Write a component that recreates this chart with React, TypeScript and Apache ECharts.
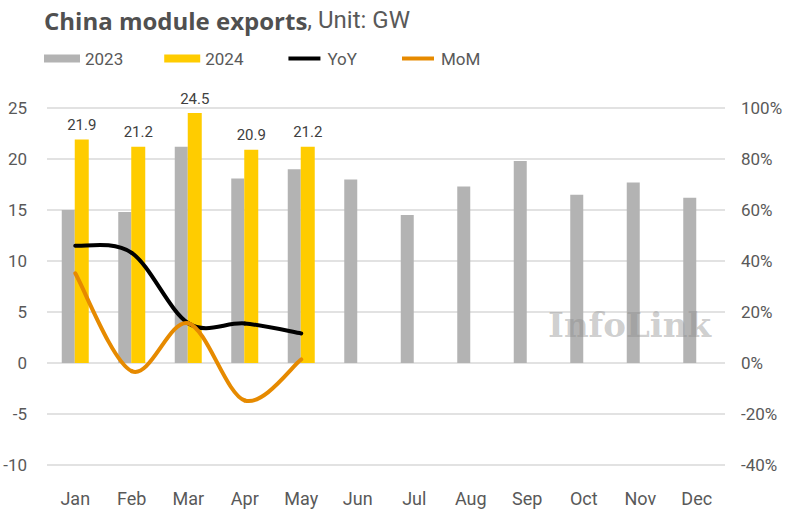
import React, { useEffect, useRef } from "react";
import * as echarts from "echarts";

const months = ["Jan", "Feb", "Mar", "Apr", "May", "Jun", "Jul", "Aug", "Sep", "Oct", "Nov", "Dec"];
const exports2023 = [15.0, 14.8, 21.2, 18.1, 19.0, 18.0, 14.5, 17.3, 19.8, 16.5, 17.7, 16.2];
const exports2024 = [21.9, 21.2, 24.5, 20.9, 21.2];
const yoy = [46.0, 43.2, 15.6, 15.5, 11.6];
const mom = [35.2, -3.2, 15.6, -14.7, 1.4];

const FONT = "Roboto";
const TXT = "#595959";

// Smooth curve (Catmull-Rom -> cubic Bezier) through points given by the axes
function smoothRender(values: number[], color: string) {
  return (params: any, api: any) => {
    if (params.dataIndex !== 0) return { type: "group", children: [] };
    const pts = values.map((v, i) => api.coord([i, v]));
    const children: any[] = [];
    for (let i = 0; i < pts.length - 1; i++) {
      const p0 = pts[Math.max(0, i - 1)];
      const p1 = pts[i];
      const p2 = pts[i + 1];
      const p3 = pts[Math.min(pts.length - 1, i + 2)];
      children.push({
        type: "bezierCurve",
        shape: {
          x1: p1[0],
          y1: p1[1],
          x2: p2[0],
          y2: p2[1],
          cpx1: p1[0] + (p2[0] - p0[0]) / 6,
          cpy1: p1[1] + (p2[1] - p0[1]) / 6,
          cpx2: p2[0] - (p3[0] - p1[0]) / 6,
          cpy2: p2[1] - (p3[1] - p1[1]) / 6,
        },
        style: { stroke: color, lineWidth: 4, fill: null, lineCap: "round" },
      });
    }
    return { type: "group", children };
  };
}

export default function App() {
  const ref = useRef<HTMLDivElement>(null);
  useEffect(() => {
    document.body.style.margin = "0";
    const chart = echarts.init(ref.current!, null, { renderer: "svg" });
    chart.setOption({
      animation: false,
      backgroundColor: "#ffffff",
      textStyle: { fontFamily: FONT },
      title: {
        text: "{b|China module exports}{r|, Unit: GW}",
        left: 39,
        top: 3,
        textStyle: {
          rich: {
            b: { fontFamily: "Open Sans", fontSize: 24, fontWeight: "bold", color: "#505050" },
            r: { fontFamily: FONT, fontSize: 24, fontWeight: "normal", color: "#595959" },
          },
        },
      },
      legend: {
        left: 39,
        top: 45,
        itemWidth: 36,
        itemHeight: 8,
        itemGap: 41,
        textStyle: { fontFamily: FONT, fontSize: 17, color: TXT },
        data: [
          { name: "2023", icon: "rect" },
          { name: "2024", icon: "rect" },
          { name: "YoY", icon: "roundRect", itemStyle: { borderColor: "#ffffff", borderWidth: 4 } },
          { name: "MoM", icon: "roundRect", itemStyle: { borderColor: "#ffffff", borderWidth: 4 } },
        ],
      },
      grid: { left: 47, right: 75, top: 108, bottom: 53 },
      xAxis: {
        type: "category",
        data: months,
        axisLine: { show: false },
        axisTick: { show: false },
        axisLabel: { color: TXT, fontSize: 18, fontFamily: FONT, margin: 24 },
      },
      yAxis: [
        {
          type: "value",
          min: -10,
          max: 25,
          interval: 5,
          axisLabel: { color: TXT, fontSize: 17, fontFamily: FONT, margin: 20 },
          splitLine: { lineStyle: { color: "#d9d9d9", width: 1.5 } },
          axisLine: { show: false },
          axisTick: { show: false },
        },
        {
          type: "value",
          min: -40,
          max: 100,
          interval: 20,
          axisLabel: { color: TXT, fontSize: 17, fontFamily: FONT, margin: 16, formatter: "{value}%" },
          splitLine: { show: false },
          axisLine: { show: false },
          axisTick: { show: false },
        },
      ],
      series: [
        {
          name: "2023",
          type: "bar",
          data: exports2023,
          barWidth: 13,
          barGap: "0%",
          itemStyle: { color: "#b3b3b3" },
        },
        {
          name: "2024",
          type: "bar",
          data: exports2024,
          barWidth: 14,
          itemStyle: { color: "#ffcc00" },
          label: { show: true, position: "top", distance: 7, color: "#404040", fontSize: 15, fontFamily: FONT },
        },
        {
          name: "YoY",
          type: "custom",
          yAxisIndex: 1,
          data: yoy.map((v, i) => [i, v]),
          encode: { x: 0, y: 1 },
          itemStyle: { color: "#000000" },
          renderItem: smoothRender(yoy, "#000000"),
          z: 5,
        },
        {
          name: "MoM",
          type: "custom",
          yAxisIndex: 1,
          data: mom.map((v, i) => [i, v]),
          encode: { x: 0, y: 1 },
          itemStyle: { color: "#e68a00" },
          renderItem: smoothRender(mom, "#e68a00"),
          z: 5,
        },
      ],
      graphic: [
        {
          type: "text",
          left: 548,
          top: 308,
          z: 100,
          style: {
            text: "InfoLink",
            fontFamily: "DejaVu Serif",
            fontSize: 34,
            fontWeight: "bold",
            fill: "rgba(140,140,140,0.42)",
          },
        },
      ],
    });
    return () => chart.dispose();
  }, []);
  return <div ref={ref} style={{ width: 800, height: 518 }} />;
}
